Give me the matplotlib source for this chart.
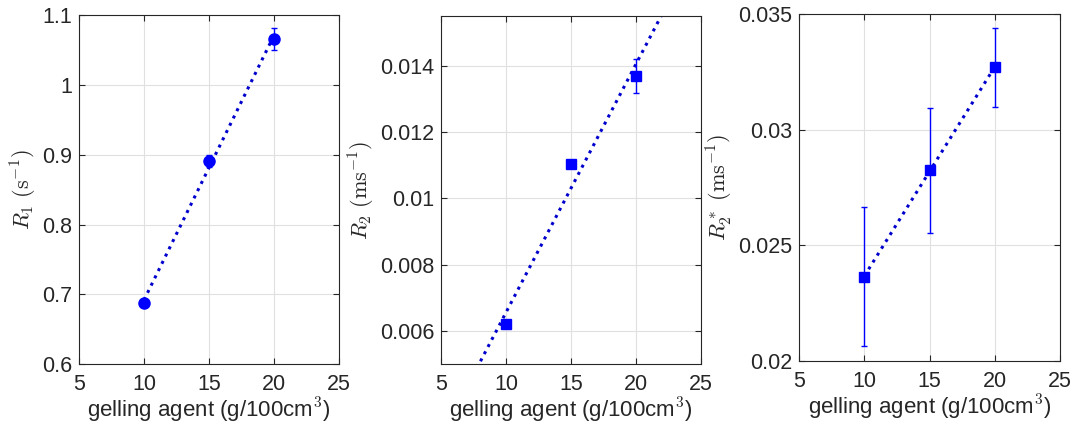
import numpy as np
import matplotlib
matplotlib.use('Agg')
import matplotlib.pyplot as plt
from matplotlib.ticker import FuncFormatter

plt.rcParams['font.family'] = ['Liberation Sans', 'DejaVu Sans']
plt.rcParams['mathtext.fontset'] = 'cm'

# data
gel = [10, 15, 20]
r1 = [0.687, 0.891, 1.066]
r1_err = [0.004, 0.008, 0.016]
r2 = [0.0062, 0.01105, 0.01369]
r2_err = [0.00008, 0.0001, 0.0005]
r2s = [0.02365, 0.02824, 0.03269]
r2s_err = [0.003, 0.0027, 0.0017]

blue = (0, 0, 1)
line_blue = (0, 0, 0.8)

fig = plt.figure(figsize=(10.76, 4.32), dpi=100)
positions = [
    [0.0734, 0.157, 0.2416, 0.808],
    [0.4100, 0.157, 0.2416, 0.806],
    [0.7426, 0.164, 0.2426, 0.804],
]

panels = [
    (r1, r1_err, 'o', (0.6, 1.1), np.arange(0.6, 1.11, 0.1), r'$R_1\ (\mathrm{s}^{-1})$', False),
    (r2, r2_err, 's', (0.005, 0.0155), np.arange(0.006, 0.0141, 0.002), r'$R_2\ (\mathrm{ms}^{-1})$', True),
    (r2s, r2s_err, 's', (0.02, 0.035), np.arange(0.02, 0.0351, 0.005), r'$R_2^*\ (\mathrm{ms}^{-1})$', False),
]

for pos, (vals, errs, mk, ylim, yticks, ylab, extend) in zip(positions, panels):
    ax = fig.add_axes(pos)
    # linear fit
    p = np.polyfit(gel, vals, 1)
    xf = np.array([5, 25]) if extend else np.array([gel[0], gel[-1]])
    ax.plot(xf, np.polyval(p, xf), ':', color=line_blue, linewidth=2.2, zorder=2)
    ax.errorbar(gel, vals, yerr=errs, fmt=mk, color=blue, markersize=8 if mk == 'o' else 7,
                elinewidth=1, capsize=2, capthick=1, zorder=3)
    ax.set_xlim(5, 25)
    ax.set_ylim(*ylim)
    ax.set_xticks([5, 10, 15, 20, 25])
    ax.set_yticks(yticks)
    ax.yaxis.set_major_formatter(FuncFormatter(lambda v, _: '%g' % round(v, 6)))
    ax.grid(True, color='#e0e0e0', linewidth=0.8)
    ax.set_axisbelow(True)
    ax.tick_params(direction='in', top=True, right=True, labelsize=15.5, length=4, colors='#262626')
    ax.tick_params(axis='x', pad=7)
    ax.tick_params(axis='y', pad=5)
    for s in ax.spines.values():
        s.set_color('#262626')
        s.set_linewidth(0.8)
    ax.set_xlabel('gelling agent (g/100cm$^3$)', fontsize=16, color='#262626', labelpad=1)
    ax.set_ylabel(ylab, fontsize=16, color='#262626', labelpad=2)

fig.savefig('out.png', dpi=100)
